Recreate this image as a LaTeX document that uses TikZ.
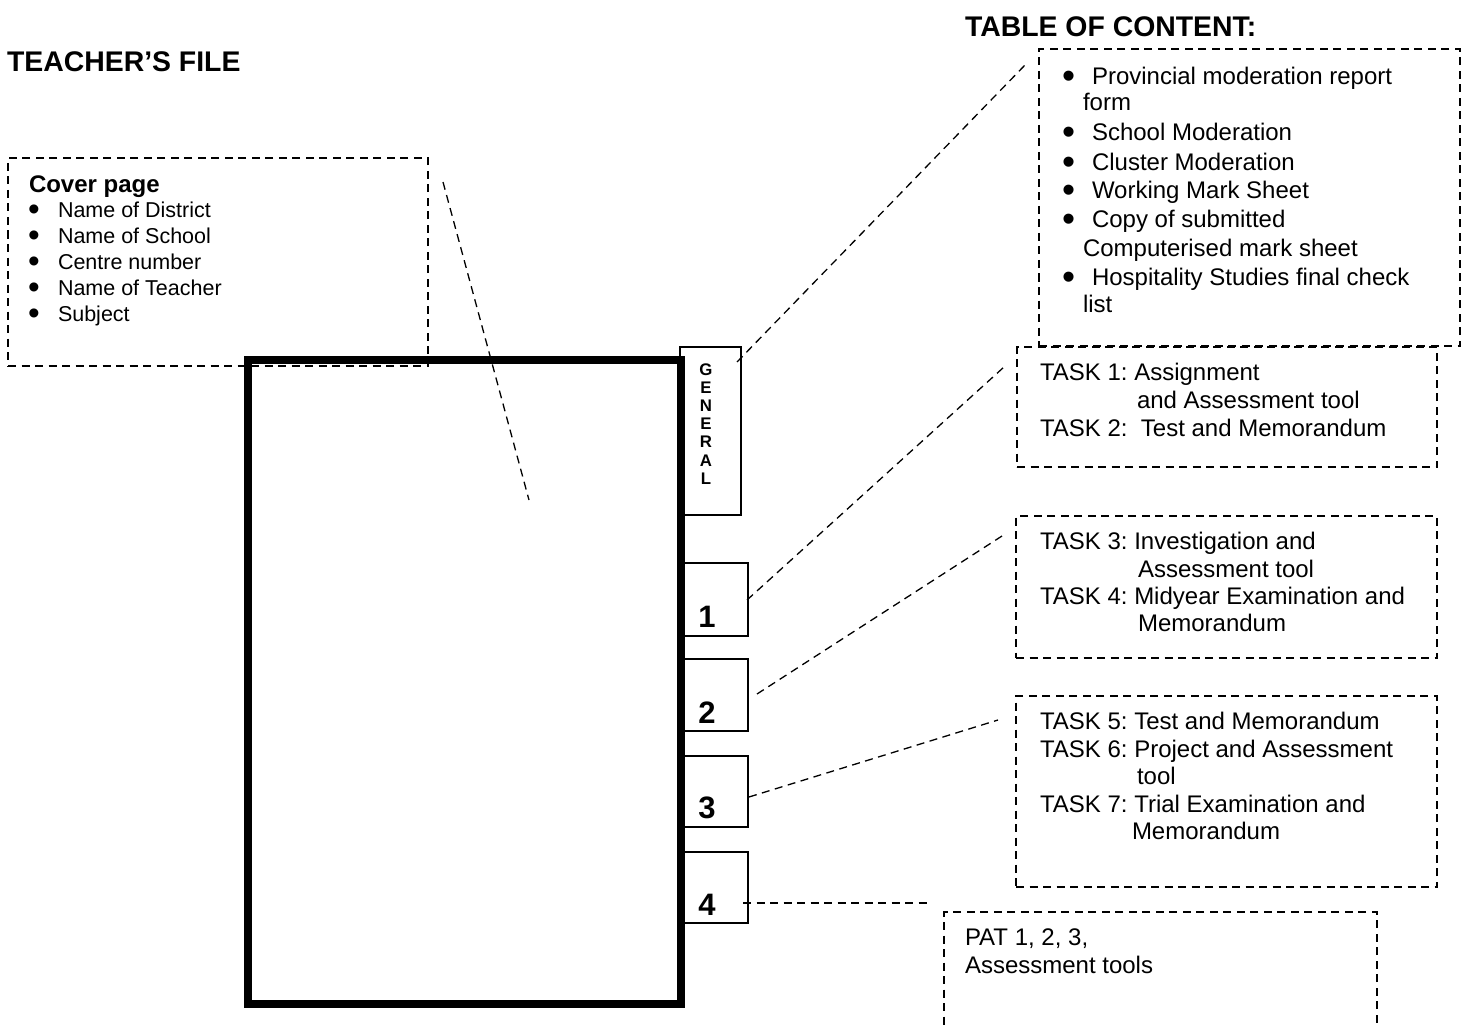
\documentclass[tikz,border=0pt]{standalone}
\usepackage{fontspec}
\setmainfont{Liberation Sans}
\frenchspacing
\newcommand{\bigbul}{\smash{\raisebox{-0.17em}{\scalebox{1.55}{•}}}}
\begin{document}
\begin{tikzpicture}[x=0.5pt,y=-0.5pt,
  dline/.style={line width=0.65pt, dash pattern=on 4pt off 2.75pt},
  dbox/.style={dline, draw, rectangle, inner sep=0pt, outer sep=0pt, anchor=north west},
  tabbox/.style={draw, line width=0.75pt, rectangle, inner sep=0pt, outer sep=0pt, anchor=north west, minimum width=32.5pt},
  folderbox/.style={draw, line width=4pt, rectangle, inner sep=0pt, outer sep=0pt, anchor=north west},
  txt/.style={inner sep=0pt, outer sep=0pt, anchor=base west, font=\fontsize{12}{14}\selectfont},
  smalltxt/.style={txt, font=\fontsize{10.75}{13}\selectfont},
  head/.style={txt, font=\fontsize{14.2}{17}\selectfont\bfseries},
  subhead/.style={txt, font=\fontsize{12}{14}\selectfont\bfseries},
  genletter/.style={inner sep=0pt, outer sep=0pt, anchor=base, font=\fontsize{8.4}{9}\selectfont\bfseries},
  digit/.style={inner sep=0pt, outer sep=0pt, anchor=base, font=\fontsize{15.5}{18}\selectfont\bfseries}
]
\useasboundingbox (0,0) rectangle (1464,1028);

% headings
\node[head] (teacher) at (7,71) {TEACHER’S FILE};
\node[head] (tochead) at (965,36) {TABLE OF CONTENT:};

% cover page box
\node[dbox, minimum width=210pt, minimum height=104pt] (cover) at (8,158) {};
\node[subhead] (coverhead) at (29,192) {Cover page};
\foreach \t [count=\i] in {Name of District, Name of School, Centre number, Name of Teacher, Subject}{
  \node[smalltxt] (cb\i) at (28,{217+26*(\i-1)}) {\bigbul};
  \node[smalltxt] (ci\i) at (58,{217+26*(\i-1)}) {\t};
}

% tabs
\node[tabbox, minimum width=30.5pt, minimum height=84pt] (gen) at (680,347) {};
\node[tabbox, minimum height=36.5pt] (t1) at (683,563) {};
\node[tabbox, minimum height=36pt] (t2) at (683,659) {};
\node[tabbox, minimum height=35.5pt] (t3) at (683,756) {};
\node[tabbox, minimum height=35.5pt] (t4) at (683,852) {};

% folder
\node[folderbox, minimum width=216.25pt, minimum height=322pt] (folder) at (248,360) {};

% GENERAL letters
\foreach \l [count=\i] in {G,E,N,E,R,A,L}{
  \node[genletter] (gl\i) at (706,{375+18.2*(\i-1)}) {\l};
}
% digits
\node[digit] (d1) at (707,627) {1};
\node[digit] (d2) at (707,723) {2};
\node[digit] (d3) at (707,818) {3};
\node[digit] (d4) at (707,915) {4};

% table of content box
\node[dbox, minimum width=210.5pt, minimum height=148.5pt] (toc) at (1039,49) {};
\node[txt] (toc1) at (1062,84) {\makebox[15pt][l]{\bigbul}Provincial moderation report};
\node[txt] (toc1b) at (1083,111) {form};
\node[txt] (toc2) at (1062,140) {\makebox[15pt][l]{\bigbul}School Moderation};
\node[txt] (toc3) at (1062,170) {\makebox[15pt][l]{\bigbul}Cluster Moderation};
\node[txt] (toc4) at (1062,198) {\makebox[15pt][l]{\bigbul}Working Mark Sheet};
\node[txt] (toc5) at (1062,227) {\makebox[15pt][l]{\bigbul}Copy of submitted};
\node[txt] (toc5b) at (1083,256) {Computerised mark sheet};
\node[txt] (toc6) at (1062,285) {\makebox[15pt][l]{\bigbul}Hospitality Studies final check};
\node[txt] (toc6b) at (1083,312) {list};

% task 1-2 box
\node[dbox, minimum width=210pt, minimum height=60pt] (task12) at (1017,347) {};
\node[txt] (k1) at (1040,380) {TASK 1: Assignment};
\node[txt] (k1b) at (1137,408) {and Assessment tool};
\node[txt] (k2) at (1040,436) {TASK 2:\ \ Test and Memorandum};

% task 3-4 box
\node[dbox, minimum width=210.5pt, minimum height=71pt] (task34) at (1016,516) {};
\node[txt] (k3) at (1040,549) {TASK 3: Investigation and};
\node[txt] (k3b) at (1138,577) {Assessment tool};
\node[txt] (k4) at (1040,604) {TASK 4: Midyear Examination and};
\node[txt] (k4b) at (1138,631) {Memorandum};

% task 5-7 box
\node[dbox, minimum width=210.5pt, minimum height=95.5pt] (task57) at (1016,696) {};
\node[txt] (k5) at (1040,729) {TASK 5: Test and Memorandum};
\node[txt] (k6) at (1040,757) {TASK 6: Project and Assessment};
\node[txt] (k6b) at (1137,784) {tool};
\node[txt] (k7) at (1040,812) {TASK 7: Trial Examination and};
\node[txt] (k7b) at (1132,839) {Memorandum};

% PAT box (runs off the bottom edge)
\node[dbox, minimum width=216.5pt, minimum height=75pt] (pat) at (944,912) {};
\node[txt] (p1) at (965,945) {PAT 1, 2, 3,};
\node[txt] (p2) at (965,973) {Assessment tools};

% connector end points
\coordinate (cvA) at (443,182);
\coordinate (cvB) at (529,500);
\coordinate (gA) at (737,362);
\coordinate (gB) at (1026,64);
\coordinate (aA) at (747,600);
\coordinate (aB) at (1004,367);
\coordinate (bA) at (757,694);
\coordinate (bB) at (1002,536);
\coordinate (cA) at (749,797);
\coordinate (cB) at (998,720);
\coordinate (eA) at (743,903);
\coordinate (eB) at (930,903);

\draw[dline] (cvA) -- (cvB);
\draw[dline] (gA) -- (gB);
\draw[dline] (aA) -- (aB);
\draw[dline] (bA) -- (bB);
\draw[dline] (cA) -- (cB);
\draw[dline] (eA) -- (eB);
\end{tikzpicture}
\end{document}
